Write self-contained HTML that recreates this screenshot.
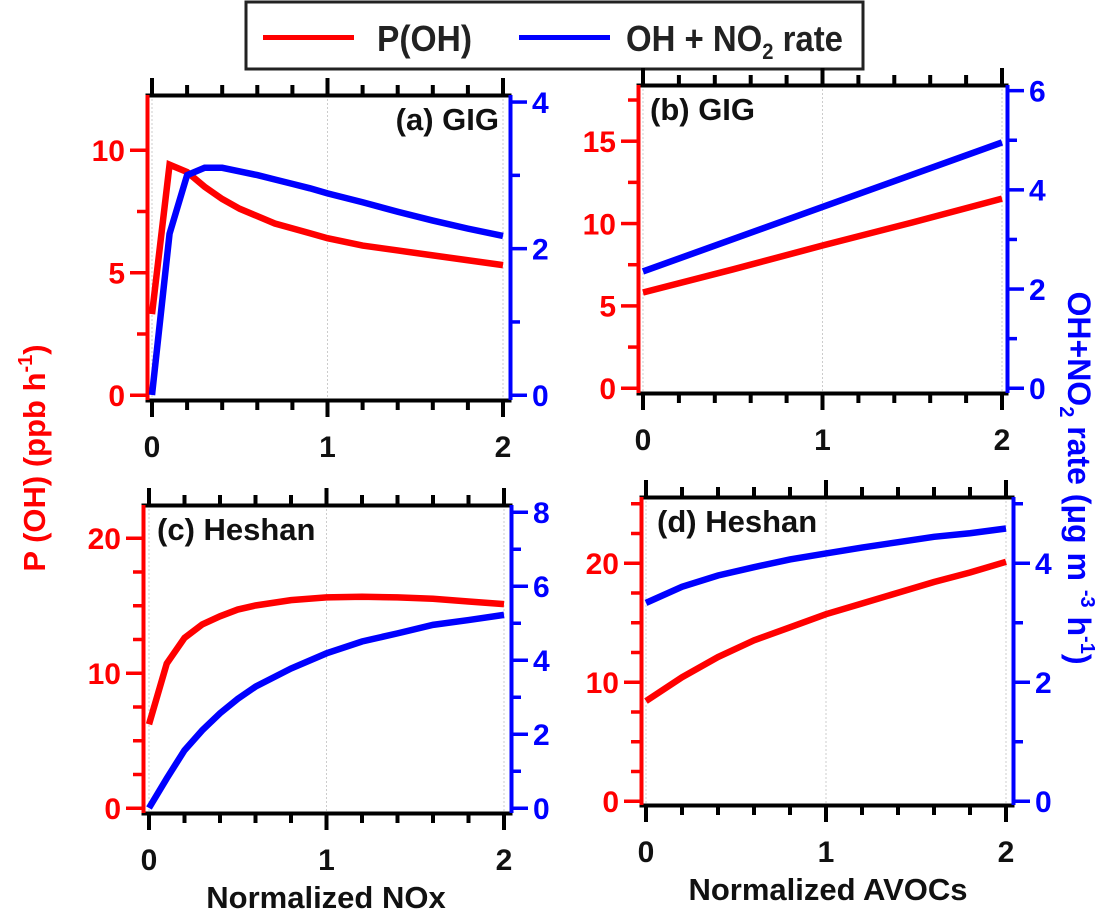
<!DOCTYPE html>
<html><head><meta charset="utf-8"><style>
html,body{margin:0;padding:0;background:#fff;}
svg{display:block;font-family:"Liberation Sans",Arial,sans-serif;font-weight:bold;}
</style></head><body>
<svg id="chart" width="1118" height="911" viewBox="0 0 1118 911" xmlns="http://www.w3.org/2000/svg">
<g id="legend">
<rect x="246" y="2" width="617" height="67" fill="#fff" stroke="#222" stroke-width="3"/>
<rect x="263" y="35" width="91" height="5" fill="#f00"/>
<text x="377" y="51" font-size="36" fill="#222" textLength="95" lengthAdjust="spacingAndGlyphs">P(OH)</text>
<rect x="519" y="35" width="91" height="5" fill="#00f"/>
<text x="626" y="51" font-size="36" fill="#222" textLength="217" lengthAdjust="spacingAndGlyphs">OH + NO<tspan font-size="22" dy="8">2</tspan><tspan dy="-8"> rate</tspan></text>
</g>
<text transform="translate(45,458) rotate(-90)" text-anchor="middle" font-size="31" fill="#f00">P (OH) (ppb h<tspan font-size="20" dy="-13">-1</tspan><tspan dy="13">)</tspan></text>
<text transform="translate(1068,478) rotate(90)" text-anchor="middle" font-size="32" fill="#00f">OH+NO<tspan font-size="20" dy="8">2</tspan><tspan dy="-8"> rate (μg m  </tspan><tspan font-size="20" dy="-13">-3</tspan><tspan dy="13">  h</tspan><tspan font-size="20" dy="-13">-1</tspan><tspan dy="13">)</tspan></text>
<text x="326" y="908" text-anchor="middle" font-size="31" fill="#111">Normalized NOx</text>
<text x="828" y="900" text-anchor="middle" font-size="31" fill="#111">Normalized AVOCs</text>
</svg>
<script>
// Panel (a) GIG - NOx
const xA = [0,0.1,0.2,0.3,0.4,0.5,0.6,0.7,0.8,0.9,1.0,1.2,1.4,1.6,1.8,2.0];
const pohA = [3.3,9.4,9.1,8.5,8.0,7.6,7.3,7.0,6.8,6.6,6.4,6.1,5.9,5.7,5.5,5.3];
const rateA = [0,2.2,3.0,3.1,3.1,3.05,3.0,2.94,2.88,2.82,2.75,2.63,2.5,2.38,2.27,2.17];
// Panel (b) GIG - AVOCs
const xB = [0,0.5,1.0,1.5,2.0];
const pohB = [5.8,7.2,8.65,10.05,11.5];
const rateB = [2.35,3.0,3.65,4.3,4.95];
// Panel (c) Heshan - NOx
const xC = [0,0.1,0.2,0.3,0.4,0.5,0.6,0.8,1.0,1.2,1.4,1.6,1.8,2.0];
const pohC = [6.2,10.7,12.6,13.6,14.2,14.7,15.0,15.4,15.6,15.65,15.6,15.5,15.3,15.1];
const rateC = [0,0.8,1.56,2.1,2.56,2.95,3.28,3.77,4.18,4.5,4.72,4.95,5.08,5.22];
// Panel (d) Heshan - AVOCs
const xD = [0,0.2,0.4,0.6,0.8,1.0,1.2,1.4,1.6,1.8,2.0];
const pohD = [8.4,10.4,12.1,13.5,14.6,15.7,16.6,17.5,18.4,19.2,20.1];
const rateD = [3.33,3.6,3.79,3.93,4.06,4.16,4.26,4.35,4.44,4.5,4.58];
// Tick labels
const xTickLabels = ['0','1','2'];
const leftTicksAB = ['0','5','10','15'];
const leftTicksCD = ['0','10','20'];
const rightTicksA = ['0','2','4'];
const rightTicksB = ['0','2','4','6'];
const rightTicksC = ['0','2','4','6','8'];
const rightTicksD = ['0','2','4'];
const titles = ['(a) GIG','(b) GIG','(c) Heshan','(d) Heshan'];

const NS='http://www.w3.org/2000/svg';
const svg=document.getElementById('chart');
function mk(tag,attrs,parent){const e=document.createElementNS(NS,tag);for(const k in attrs)e.setAttribute(k,attrs[k]);(parent||svg).appendChild(e);return e;}
function box(x,y,w,h,c,g){return mk('rect',{x:x,y:y,width:w,height:h,fill:c},g);}

function panel(o){
  const g=mk('g',{});
  
  
  const sx=v=>o.x0+v/2*(o.x2-o.x0);
  const sl=v=>o.yb0-v*o.lpu;
  const sr=v=>o.yb0-v*o.rpu;
  [0,1,2].forEach(v=>{const l=mk('line',{x1:sx(v),x2:sx(v),y1:o.top,y2:o.bot,stroke:'#ccc','stroke-width':1,'stroke-dasharray':'2,2'},g);
    
    });
  // frame top/bottom
  box(o.left-1.5,o.top-1.5,o.right-o.left+3,4,'#000',g);
  box(o.left-1.5,o.bot-1.5,o.right-o.left+3,4,'#000',g);
  // x ticks
  for(let i=0;i<=10;i++){const v=i*0.2;const maj=(i%5===0);const len=maj?17:10;
    box(sx(v)-2,o.bot,4,len,'#000',g);
    box(sx(v)-2,o.top-len,4,len,'#000',g);}
  xTickLabels.forEach(t=>{const e=mk('text',{x:sx(+t),y:o.bot+57,'text-anchor':'middle','font-size':30,fill:'#111'},g);e.textContent=t;
    
    });
  // left axis
  box(o.left-1.5,o.top,4,o.bot-o.top,'#f00',g);
  for(let v=0;v<=o.lmax+0.01;v+=2.5){const maj=o.lmajor.includes(v);const len=maj?17:10;
    box(o.left-len,sl(v)-1.5,len,3.5,'#f00',g);}
  o.lticks.forEach(t=>{const e=mk('text',{x:o.left-22,y:sl(+t)+11,'text-anchor':'end','font-size':30,fill:'#f00'},g);e.textContent=t;
    
    });
  // right axis
  box(o.right-1.5,o.top,4,o.bot-o.top,'#00f',g);
  for(let v=0;v<=o.rmax+0.01;v+=1){const maj=o.rticks.includes(String(v));const len=maj?17:10;
    box(o.right,sr(v)-1.5,len,3.5,'#00f',g);}
  o.rticks.forEach(t=>{const e=mk('text',{x:o.right+22,y:sr(+t)+11,'text-anchor':'start','font-size':30,fill:'#00f'},g);e.textContent=t;
    
    });
  const pr=mk('polyline',{points:o.xs.map((x,i)=>sx(x)+','+sl(o.poh[i])).join(' '),fill:'none',stroke:'#f00','stroke-width':6.5},g);
  
  
  const pb=mk('polyline',{points:o.xs.map((x,i)=>sx(x)+','+sr(o.rate[i])).join(' '),fill:'none',stroke:'#00f','stroke-width':6.5},g);
  
  
  const tt=mk('text',{x:o.tx,y:o.ty,'text-anchor':o.ta,'font-size':31,fill:'#111'},g);tt.textContent=o.title;
  
  
}
panel({id:'a',left:147,right:510,top:95,bot:400,x0:152,x2:503,yb0:395,lpu:24.5,rpu:73.3,lmax:10,lmajor:[0,5,10],lticks:leftTicksAB.slice(0,3),rmax:4,rticks:rightTicksA,xs:xA,poh:pohA,rate:rateA,title:titles[0],tx:499,ty:130,ta:'end'});
panel({id:'b',left:638,right:1007,top:85,bot:393,x0:643,x2:1002,yb0:388,lpu:16.47,rpu:49.6,lmax:17.5,lmajor:[0,5,10,15],lticks:leftTicksAB,rmax:6,rticks:rightTicksB,xs:xB,poh:pohB,rate:rateB,title:titles[1],tx:650,ty:120,ta:'start'});
panel({id:'c',left:143,right:511,top:505,bot:813,x0:149,x2:504,yb0:808,lpu:13.5,rpu:37,lmax:20,lmajor:[0,10,20],lticks:leftTicksCD,rmax:8,rticks:rightTicksC,xs:xC,poh:pohC,rate:rateC,title:titles[2],tx:157,ty:540,ta:'start'});
panel({id:'d',left:641,right:1013,top:497,bot:805,x0:646,x2:1006,yb0:801,lpu:11.9,rpu:59.5,lmax:25,lmajor:[0,10,20],lticks:leftTicksCD,rmax:5,rticks:rightTicksD,xs:xD,poh:pohD,rate:rateD,title:titles[3],tx:657,ty:532,ta:'start'});
</script>
</body></html>
